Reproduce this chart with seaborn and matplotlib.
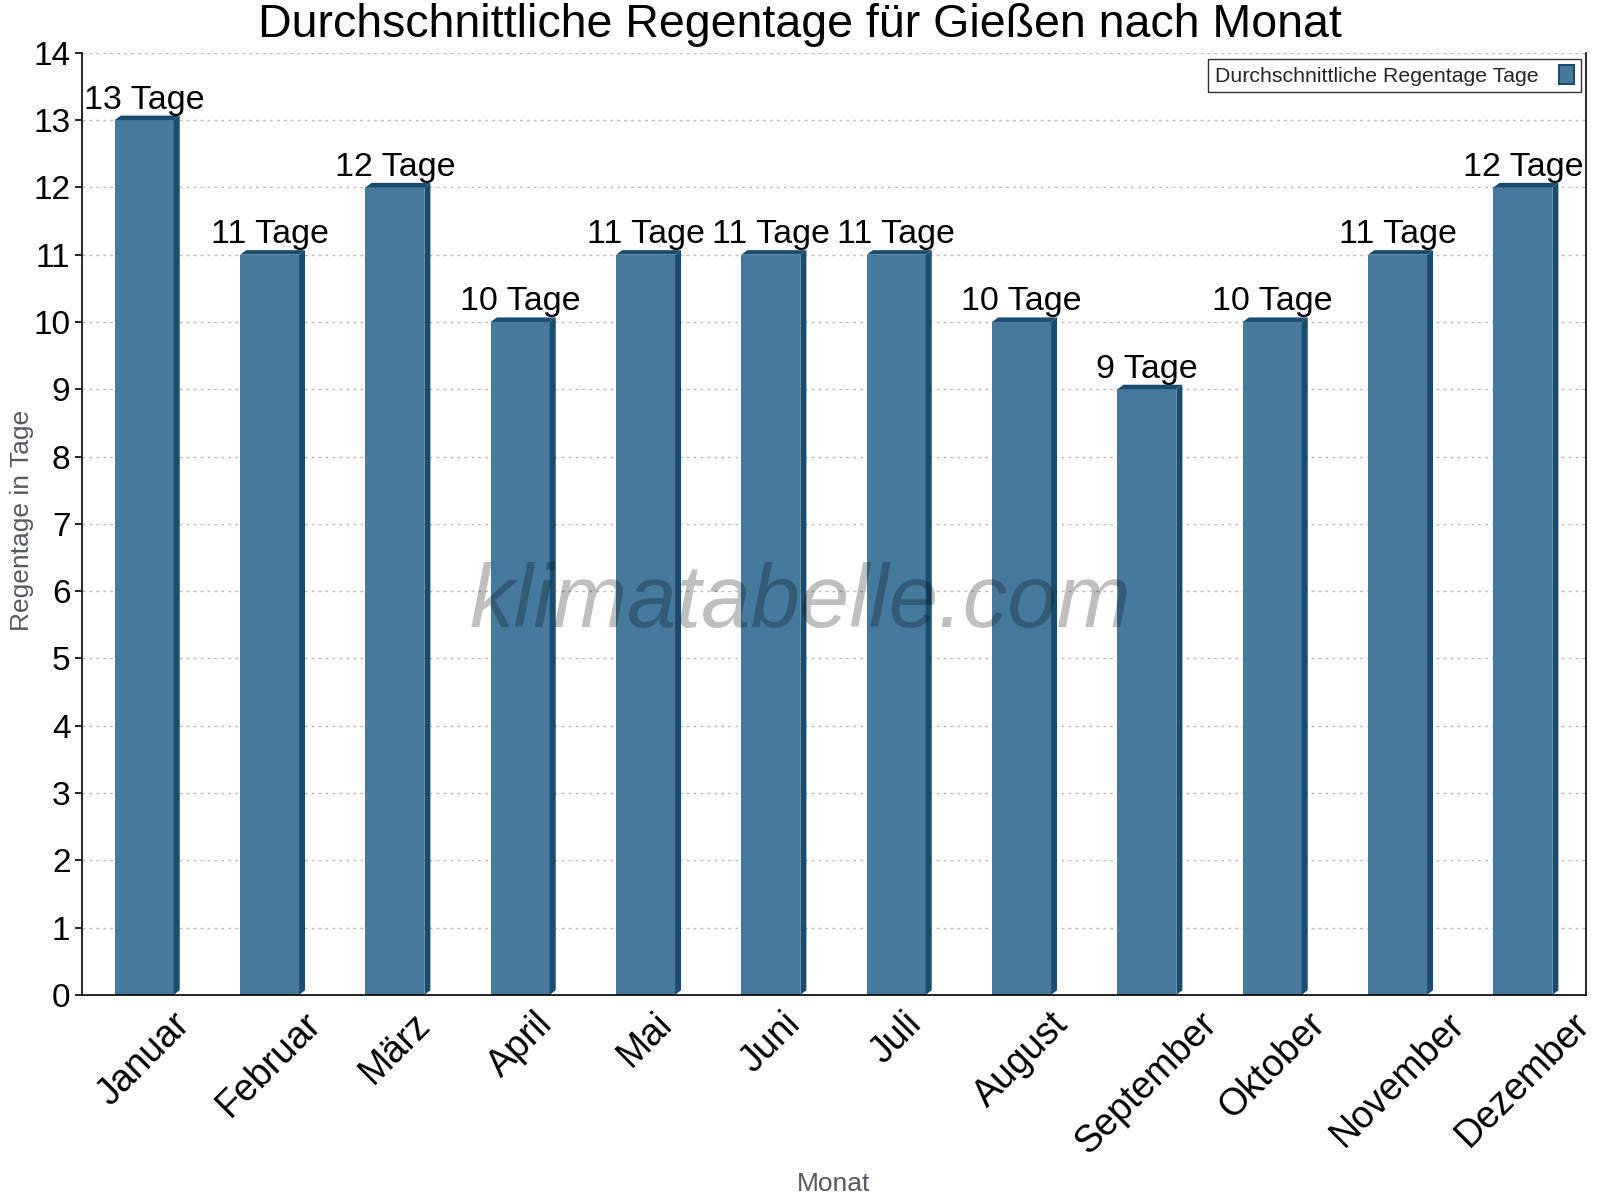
import matplotlib
matplotlib.use("Agg")
import matplotlib.pyplot as plt
import seaborn as sns
import pandas as pd
from matplotlib.patches import Polygon, Patch
from matplotlib.ticker import MultipleLocator, FixedLocator

months = ["Januar", "Februar", "März", "April", "Mai", "Juni", "Juli",
          "August", "September", "Oktober", "November", "Dezember"]
rain_days = [13, 11, 12, 10, 11, 11, 11, 10, 9, 10, 11, 12]
value_labels = [f"{v} Tage" for v in rain_days]

title = "Durchschnittliche Regentage für Gießen nach Monat"
xlabel = "Monat"
ylabel = "Regentage in Tage"
legend_label = "Durchschnittliche Regentage Tage"
watermark = "klimatabelle.com"

face = "#457a9d"
dark = "#1a4c6d"

sns.set_theme(style="white")
plt.rcParams["font.family"] = ["Liberation Sans", "DejaVu Sans"]

df = pd.DataFrame({"Monat": months, "Tage": rain_days})

fig = plt.figure(figsize=(16, 12), dpi=100)
ax = fig.add_axes([0.051, 0.171, 0.940, 0.785])

sns.barplot(data=df, x="Monat", y="Tage", color=face, saturation=1,
            width=0.47, ax=ax, edgecolor="none", linewidth=0)

ax.set_xlim(-0.5, len(months) - 0.5)
ax.set_ylim(0, 14)

# 3D effect: side and top faces
fig.canvas.draw()
bbox = ax.get_window_extent()
px_x = (ax.get_xlim()[1] - ax.get_xlim()[0]) / bbox.width
px_y = (ax.get_ylim()[1] - ax.get_ylim()[0]) / bbox.height
dx = 6 * px_x
dy = 4.5 * px_y
for p in list(ax.patches):
    x0 = p.get_x()
    w = p.get_width()
    h = p.get_height()
    x1 = x0 + w
    side = Polygon([(x1, 0), (x1 + dx, dy), (x1 + dx, h + dy), (x1, h)],
                   closed=True, facecolor=dark, edgecolor="none", zorder=p.get_zorder())
    top = Polygon([(x0, h), (x0 + dx, h + dy), (x1 + dx, h + dy), (x1, h)],
                  closed=True, facecolor=dark, edgecolor="none", zorder=p.get_zorder())
    ax.add_patch(side)
    ax.add_patch(top)

for i, (v, lab) in enumerate(zip(rain_days, value_labels)):
    ax.text(i, v + dy, lab, ha="center", va="bottom", fontsize=24.5, color="black")

# grid
ax.yaxis.set_major_locator(MultipleLocator(1))
ax.grid(axis="y", color="#bbbbbb", linestyle=(0, (2, 3)), linewidth=1)
ax.set_axisbelow(True)

# spines
ax.spines["top"].set_visible(False)
for s in ["left", "bottom", "right"]:
    ax.spines[s].set_visible(True)
    ax.spines[s].set_color("black")
    ax.spines[s].set_linewidth(1.2)

# ticks
ax.set_xticks(range(len(months)))
ax.set_xticklabels(months, rotation=45, fontsize=27)
ax.xaxis.set_minor_locator(FixedLocator([i - 0.5 for i in range(len(months) + 1)]))
ax.tick_params(axis="x", which="major", length=0, pad=8, colors="black")
ax.tick_params(axis="x", which="minor", length=9, width=1.2, direction="inout", color="black")
ax.tick_params(axis="y", which="major", length=5, width=1.2, direction="out",
               labelsize=24, colors="black", pad=3, left=True)

ax.set_xlabel("")
ax.set_ylabel("")
fig.text(0.521, 0.0135, xlabel, ha="center", va="center",
         fontsize=19, color="#555a60")
fig.text(0.0135, 0.566, ylabel, rotation=90, ha="center", va="center",
         fontsize=19, color="#555a60")

fig.text(0.5, 0.979, title, ha="center", va="center", fontsize=33.5, color="black")

fig.text(0.5, 0.497, watermark, ha="center", va="center",
         fontsize=64, style="italic", color="black", alpha=0.25, zorder=10)

handle = Patch(facecolor=face, edgecolor=dark, linewidth=1.5)
leg = ax.legend([handle], [legend_label], loc="upper right",
                bbox_to_anchor=(0.9967, 0.9936), borderaxespad=0, fontsize=15.3,
                frameon=True, fancybox=False, markerfirst=False, handlelength=0.7,
                handleheight=1.0, borderpad=0.3, handletextpad=1.0)
leg.get_frame().set_edgecolor("black")
leg.get_frame().set_linewidth(1.0)
for t in leg.get_texts():
    t.set_x(0)

fig.savefig("out.png", dpi=100)
